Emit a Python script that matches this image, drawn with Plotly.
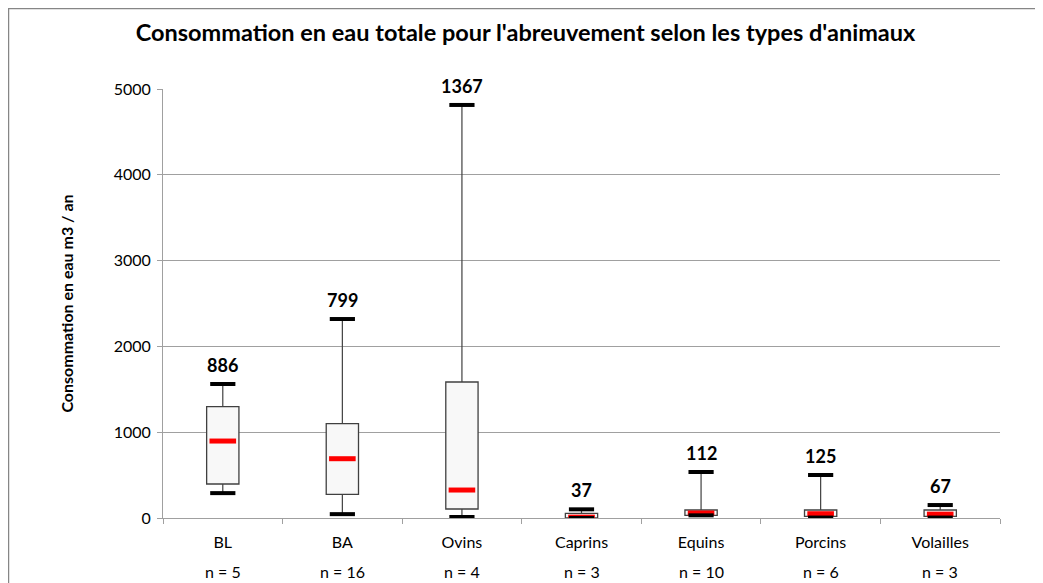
import plotly.graph_objects as go

# boites a moustaches (m3 / an)
types = ['BL', 'BA', 'Ovins', 'Caprins', 'Equins', 'Porcins', 'Volailles']
n_obs = [5, 16, 4, 3, 10, 6, 3]
mini = [290, 45, 12, 0, 31, 5, 5]
q1 = [396, 276, 105, 0, 31, 20, 20]
mediane = [897, 691, 326, 10, 58, 50, 45]
q3 = [1297, 1099, 1585, 55, 93, 93, 93]
maxi = [1562, 2319, 4814, 101, 536, 501, 151]
moyenne = [886, 799, 1367, 37, 112, 125, 67]

fig = go.Figure()

# corps des boites
fig.add_trace(go.Bar(
    x=types, y=[b - a for a, b in zip(q1, q3)], base=q1, width=0.27,
    marker=dict(color='#f8f8f8', line=dict(color='#404040', width=1.3)),
    hoverinfo='skip'))

# moustaches
wx, wy = [], []
for t, a, b, lo, hi in zip(types, q1, q3, mini, maxi):
    wx += [t, t, None, t, t, None]
    wy += [b, hi, None, a, lo, None]
fig.add_trace(go.Scatter(x=wx, y=wy, mode='lines',
                         line=dict(color='#404040', width=1.2), hoverinfo='skip'))

# mediane en rouge
fig.add_trace(go.Scatter(x=types, y=mediane, mode='markers',
                         marker=dict(symbol='line-ew', size=19, line=dict(color='#ff0000', width=5)),
                         hoverinfo='skip'))

# extremites
fig.add_trace(go.Scatter(x=types + types, y=mini + maxi, mode='markers',
                         marker=dict(symbol='line-ew', size=18, line=dict(color='#000000', width=4)),
                         hoverinfo='skip'))

# moyennes au-dessus des moustaches
for t, hi, m in zip(types, maxi, moyenne):
    fig.add_annotation(x=t, y=hi, yanchor='bottom', yshift=6, showarrow=False,
                       text='<b>%d</b>' % m, font=dict(family='Lato', size=18, color='#000000'))

for t, n in zip(types, n_obs):
    fig.add_annotation(x=t, y=0, xref='x', yref='paper', yshift=-65, showarrow=False,
                       text='n = %d' % n, font=dict(family='Lato', size=16, color='#000000'))

# cadre du graphique
fig.add_shape(type='rect', xref='paper', yref='paper', x0=-0.1846, x1=1.1, y0=-0.3, y1=1.1876,
              line=dict(color='#868686', width=1.5), layer='below')

fig.update_layout(
    width=1035, height=575,
    margin=dict(l=155, r=43, t=81, b=65),
    paper_bgcolor='white', plot_bgcolor='white',
    showlegend=False,
    title=dict(text="<b>Consommation en eau totale pour l'abreuvement selon les types d'animaux</b>",
               x=0.5, xanchor='center', y=0.9565, yanchor='middle',
               font=dict(family='Lato', size=23.5, color='#000000')),
    font=dict(family='Lato', size=16, color='#000000'),
)
fig.update_xaxes(type='category', tickson='boundaries', ticks='outside', ticklen=5,
                 tickcolor='#a0a0a0', showline=True, linecolor='#a0a0a0', linewidth=1,
                 showgrid=False, ticklabelstandoff=10, tickfont=dict(size=16))
fig.update_yaxes(range=[0, 5000], tickvals=[0, 1000, 2000, 3000, 4000, 5000],
                 ticks='outside', ticklen=5, tickcolor='#a0a0a0', showline=True,
                 linecolor='#a0a0a0', linewidth=1, gridcolor='#a0a0a0', gridwidth=1,
                 zeroline=False, tickfont=dict(size=16), ticklabelstandoff=3,
                 title=dict(text='<b>Consommation en eau m3 / an</b>', font=dict(size=16), standoff=36))

fig.write_html("out.html")
